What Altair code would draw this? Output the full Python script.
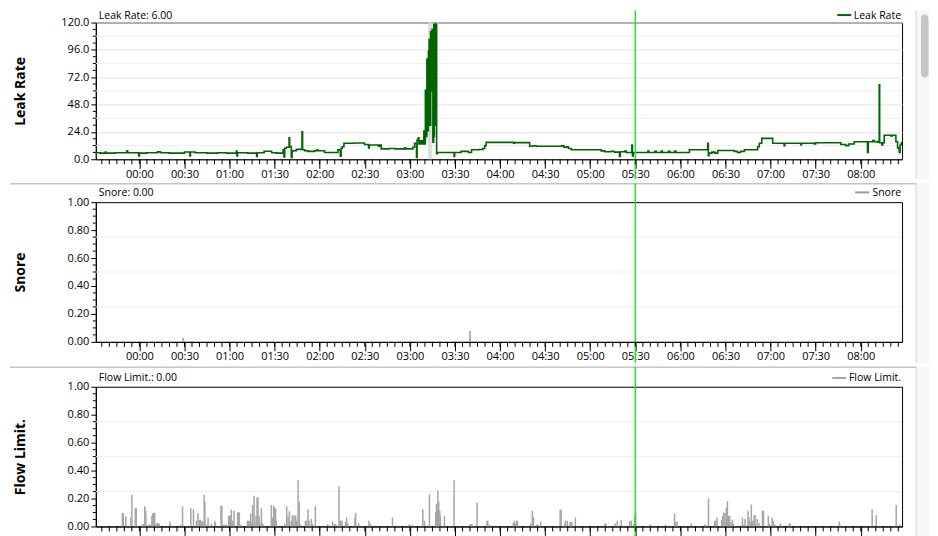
import altair as alt
import pandas as pd

# ---------------- data (minutes after 00:00; negative = before midnight) ----------------
time_ticks = [0, 30, 60, 90, 120, 150, 180, 210, 240, 270, 300, 330, 360, 390, 420, 450, 480]
minor_time_ticks = list(range(-25, 506, 5))
x_domain = [-29.0, 507.5]
crosshair_time = 330.0
readouts = {"Leak Rate": 6.00, "Snore": 0.00, "Flow Limit.": 0.00}

leak_points = [
    (-29.6, 5.7), (-29.2, 3.0), (-28.8, 5.7), (-26.0, 5.4), (-22.7, 6.3), (-22.2, 5.4),
    (-16.0, 5.7), (-8.3, 7.5), (-7.8, 5.7), (-0.5, 2.8), (0.0, 5.4), (5.0, 5.7),
    (12.0, 6.5), (14.0, 5.7), (20.0, 5.4), (30.0, 6.4), (33.6, 3.0), (34.0, 6.4),
    (37.0, 5.7), (45.0, 5.4), (52.0, 5.7), (58.0, 5.4), (64.5, 7.2), (64.9, 3.0),
    (65.3, 5.7), (72.0, 5.4), (78.0, 2.5), (78.4, 5.7), (83.0, 7.0), (88.0, 5.7),
    (91.0, 5.4),
    (95.6, 8.3), (96.2, 2.0), (96.7, 9.7), (97.8, 10.5), (99.6, 18.8), (100.0, 11.1),
    (101.1, 1.5), (101.6, 7.0), (102.2, 7.5), (104.4, 8.7), (107.3, 9.0), (108.2, 24.0),
    (108.6, 8.3), (110.0, 7.5), (112.2, 6.9), (116.6, 7.5), (118.0, 8.0), (119.0, 7.5),
    (123.2, 6.0), (132.1, 8.3), (133.7, 2.6), (134.2, 9.7), (135.0, 11.0), (136.1, 14.0),
    (143.0, 14.3), (149.8, 13.0), (152.5, 10.0), (153.0, 12.5), (159.0, 11.5), (159.8, 12.5),
    (160.9, 9.1), (166.0, 9.4), (170.0, 9.1), (176.4, 10.0), (177.0, 9.1), (182.0, 10.5),
    (183.1, 14.0), (184.4, 1.5), (184.8, 16.8),
    (185.5, 18.8), (186.0, 13.4), (187.0, 16.3), (188.0, 13.4), (188.8, 16.3), (189.3, 24.8),
    (189.8, 13.4), (190.3, 60.5), (190.8, 20.0), (191.3, 88.0), (191.8, 25.0), (192.3, 95.0),
    (192.8, 105.0), (193.3, 30.0), (193.8, 112.0), (194.3, 60.0), (194.8, 114.0), (195.3, 15.0),
    (195.8, 118.0), (196.1, 20.0), (196.3, 117.0), (196.6, 30.0), (196.9, 119.0), (197.2, 40.0),
    (197.5, 118.0), (197.8, 4.8), (198.3, 6.0),
    (209.0, 6.0), (209.4, 2.5), (209.8, 6.0), (214.0, 6.9), (219.0, 6.0), (221.0, 8.3),
    (226.0, 8.6), (228.5, 9.5), (229.8, 12.0), (230.7, 14.8), (249.0, 14.0), (249.6, 14.6),
    (259.7, 11.4), (262.0, 11.8), (264.0, 11.4), (281.0, 11.8), (282.5, 10.5), (284.1, 11.0),
    (285.5, 9.5), (287.4, 8.3), (307.3, 7.4), (309.6, 6.6), (314.0, 7.0), (316.0, 6.3),
    (319.5, 2.5), (320.0, 6.6), (323.0, 7.2), (324.0, 6.0), (327.7, 12.5), (328.1, 3.0),
    (328.6, 6.0), (338.4, 7.2), (339.0, 6.0), (343.0, 7.0), (344.0, 6.0), (347.2, 7.2),
    (348.0, 6.0), (352.0, 7.0), (353.0, 6.0), (356.1, 7.2), (357.0, 6.0),
    (366.0, 8.3), (378.2, 14.0), (378.6, 3.1), (379.0, 5.4), (381.0, 6.3), (383.0, 5.4),
    (384.9, 7.7), (395.9, 6.9), (398.0, 6.0), (400.0, 6.9), (402.6, 8.3), (411.4, 11.0),
    (412.5, 14.0), (414.1, 18.3), (421.4, 14.0), (429.0, 12.0), (429.5, 14.0), (440.2, 12.5),
    (440.6, 14.0), (449.1, 13.4), (450.0, 14.5), (466.8, 13.0), (470.0, 12.0), (472.0, 13.4),
    (475.7, 15.4), (484.5, 6.0), (485.0, 15.4), (488.0, 16.5), (489.0, 15.4), (491.2, 15.0),
    (492.3, 65.4), (492.6, 14.5), (494.0, 12.5), (494.6, 14.5), (495.6, 21.1), (500.0, 20.5),
    (501.0, 21.1), (503.4, 15.4), (504.5, 10.0), (505.6, 6.0), (506.2, 12.5), (507.0, 14.5),
    (507.8, 12.0),
]

large_leak_start = [192.2, 193.5]
large_leak_end = [193.4, 194.6]

snore_points = [(29.0, 0.03), (220.0, 0.08)]

flow_points = [
    (-11.3, 0.096), (-10.7, 0.096), (-9.0, 0.072), (-5.7, 0.065), (-5.0, 0.225), (-2.7, 0.13),
    (-2.1, 0.13), (1.7, 0.012), (2.3, 0.012), (2.9, 0.017), (3.6, 0.144), (4.3, 0.112),
    (6.3, 0.012), (7.0, 0.012), (7.6, 0.012), (8.3, 0.077), (9.0, 0.096), (9.6, 0.096),
    (10.2, 0.098), (11.4, 0.022), (12.0, 0.024), (12.6, 0.022), (13.2, 0.022), (20.3, 0.036),
    (20.9, 0.012), (27.6, 0.012), (28.7, 0.144), (34.2, 0.13), (36.0, 0.124), (38.0, 0.04),
    (38.9, 0.096), (40.0, 0.048), (40.7, 0.048), (41.5, 0.036), (42.2, 0.036), (43.1, 0.225),
    (43.6, 0.177), (44.0, 0.017), (45.7, 0.065), (47.9, 0.022), (50.2, 0.04), (50.6, 0.024),
    (54.3, 0.148), (54.9, 0.148), (56.0, 0.012), (57.0, 0.012), (57.8, 0.012), (59.4, 0.077),
    (60.1, 0.077), (60.6, 0.081), (61.2, 0.12), (62.1, 0.04), (63.0, 0.112), (65.3, 0.1),
    (65.9, 0.1), (66.5, 0.1), (67.4, 0.012), (71.9, 0.04), (72.5, 0.04), (73.1, 0.04),
    (74.1, 0.093), (74.5, 0.029), (75.4, 0.153), (76.3, 0.22), (76.7, 0.029), (77.6, 0.077),
    (78.3, 0.208), (78.9, 0.208), (79.6, 0.077), (80.1, 0.029), (81.2, 0.13), (82.1, 0.022),
    (87.8, 0.153), (88.5, 0.065), (89.4, 0.148), (90.0, 0.13), (90.6, 0.13), (91.1, 0.04),
    (96.7, 0.022), (98.0, 0.144), (98.9, 0.072), (99.8, 0.108), (101.1, 0.04), (101.8, 0.081),
    (102.9, 0.077), (104.0, 0.081), (104.7, 0.04), (105.6, 0.33), (106.4, 0.177), (107.3, 0.012),
    (110.5, 0.04), (111.2, 0.04), (112.2, 0.124), (112.9, 0.04), (114.4, 0.053), (115.1, 0.022),
    (117.1, 0.144), (125.3, 0.017), (128.6, 0.036), (130.0, 0.017), (130.7, 0.017), (132.8, 0.287),
    (133.5, 0.04), (134.1, 0.04), (134.8, 0.04), (137.2, 0.033), (137.9, 0.065), (138.8, 0.022),
    (143.4, 0.065), (143.9, 0.096), (145.9, 0.022), (152.7, 0.04), (153.8, 0.022), (168.4, 0.065),
    (179.4, 0.012), (180.0, 0.012), (181.7, 0.012), (188.6, 0.124), (189.7, 0.04), (193.0, 0.23),
    (197.2, 0.1), (197.7, 0.163), (198.1, 0.12), (198.6, 0.258), (199.2, 0.177), (199.9, 0.112),
    (200.3, 0.077), (203.0, 0.077), (209.4, 0.33), (220.1, 0.017), (220.7, 0.017), (221.3, 0.017),
    (224.7, 0.172), (231.3, 0.04), (231.8, 0.04), (233.1, 0.012),
    (248.8, 0.024), (249.4, 0.041), (250.0, 0.024), (251.0, 0.041), (251.6, 0.041), (260.4, 0.022),
    (261.5, 0.112), (262.2, 0.069), (264.3, 0.012), (265.0, 0.012), (267.0, 0.033), (280.0, 0.12),
    (280.6, 0.12), (283.0, 0.022), (283.6, 0.041), (284.8, 0.041), (286.6, 0.033), (287.2, 0.029),
    (287.8, 0.033), (290.1, 0.065), (309.8, 0.022), (310.4, 0.022), (316.6, 0.022), (318.0, 0.041),
    (320.6, 0.048), (326.2, 0.041), (327.3, 0.041), (329.1, 0.017), (329.5, 0.077), (330.2, 0.1),
    (339.8, 0.012), (340.4, 0.012), (350.1, 0.012), (356.1, 0.093), (356.7, 0.033), (357.8, 0.033),
    (367.1, 0.022), (376.1, 0.012), (376.7, 0.012), (378.7, 0.2), (382.8, 0.041), (383.4, 0.041),
    (384.4, 0.065), (387.5, 0.048), (388.2, 0.077), (388.9, 0.1), (389.7, 0.096), (390.6, 0.136),
    (391.3, 0.18), (391.9, 0.077), (392.8, 0.077), (393.7, 0.029), (394.6, 0.048), (395.3, 0.017),
    (401.3, 0.065), (401.9, 0.012), (403.0, 0.053), (405.0, 0.112), (405.7, 0.065), (406.3, 0.033),
    (407.2, 0.158), (408.1, 0.041), (409.0, 0.081), (409.7, 0.081), (411.0, 0.053), (412.3, 0.024),
    (414.6, 0.112), (415.3, 0.112), (418.5, 0.077), (419.2, 0.017), (421.0, 0.065), (421.9, 0.041),
    (423.0, 0.012), (426.5, 0.022), (432.4, 0.022), (433.0, 0.022), (465.7, 0.033), (466.1, 0.012),
    (487.6, 0.124), (490.3, 0.081), (503.6, 0.153), (506.2, 0.012),
]

leak_ticks = [0, 24, 48, 72, 96, 120]
leak_minor_ticks = [6, 12, 18, 30, 36, 42, 54, 60, 66, 78, 84, 90, 102, 108, 114]
leak_minor_grid = [12, 36, 60, 84, 108]
unit_ticks = [0, 0.2, 0.4, 0.6, 0.8, 1.0]
unit_minor_ticks = [0.05, 0.1, 0.15, 0.25, 0.3, 0.35, 0.45, 0.5, 0.55, 0.65, 0.7, 0.75, 0.85, 0.9, 0.95]
unit_minor_grid = [0.25, 0.5, 0.75]

# ---------------- styling ----------------
W = 808
FONT = "Open Sans"
LEAK_GREEN = "#006400"
GRAY = "#a6a6a6"
CROSS = "#22e022"
TXT = 10.5


def one_row():
    return pd.DataFrame({"a": [0]})


def panel(name, H, T, B, y_domain, y_ticks, y_minor, grid_minor, fmt, color,
          legend_w, major_grid, kind, points, bands=None, text_top=-13.3,
          separator_y=None, thumb=None, x_labels=True):
    x_enc = alt.X(
        "t:Q", title=None,
        scale=alt.Scale(domain=x_domain, nice=False, zero=False),
        axis=alt.Axis(values=time_ticks, tickSize=9, labelPadding=0, grid=False,
                      labels=x_labels, labelOverlap=False, labelFlush=False,
                      labelExpr="timeFormat(datetime(2000, 0, 1, 0, datum.value), '%H:%M')"),
    )
    y_enc = alt.Y(
        "v:Q", title=name,
        scale=alt.Scale(domain=y_domain, nice=False, zero=False),
        axis=alt.Axis(values=y_ticks, format=fmt, tickSize=5, labelPadding=2,
                      grid=major_grid, gridColor="#e2e2e2",
                      titleX=-75, titleY=H / 2, titleAngle=270,
                      titleAlign="center", titleBaseline="middle"),
    )
    layers = []
    # invisible bound so every panel has the same left extent
    layers.append(alt.Chart(one_row()).mark_rule(opacity=0).encode(
        x=alt.value(-86), x2=alt.value(W + 12), y=alt.value(0)))
    # window scrollbar track on the right
    layers.append(alt.Chart(one_row()).mark_rect(fill="#f7f7f7").encode(
        x=alt.value(W + 14), x2=alt.value(W + 27.5), y=alt.value(-T), y2=alt.value(H + B)))
    layers.append(alt.Chart(one_row()).mark_rule(color="#d6d6d6", strokeWidth=1).encode(
        x=alt.value(W + 14), y=alt.value(-T), y2=alt.value(H + B)))
    if thumb is not None:
        layers.append(alt.Chart(one_row()).mark_rect(
            fill="#c6c6c6", cornerRadius=4).encode(
            x=alt.value(W + 19), x2=alt.value(W + 26.5), y=alt.value(thumb[0]), y2=alt.value(thumb[1])))
    if separator_y is not None:
        layers.append(alt.Chart(one_row()).mark_rule(color="#c4c4c4", strokeWidth=1.5).encode(
            x=alt.value(-86), x2=alt.value(W + 14), y=alt.value(separator_y)))
    layers.append(alt.Chart(pd.DataFrame({"v": grid_minor})).mark_rule(
        color="#efefef", strokeWidth=1).encode(y=y_enc, x=alt.value(0), x2=alt.value(W)))
    if bands is not None:
        layers.append(alt.Chart(bands).mark_rect(color="#d9d9d9").encode(
            x=x_enc, x2="t2:Q", y=alt.value(0), y2=alt.value(H)))
    df = pd.DataFrame(points, columns=["t", "v"])
    if kind == "line":
        layers.append(alt.Chart(df).mark_line(
            interpolate="step-after", color=color, strokeWidth=1.6, clip=True).encode(x=x_enc, y=y_enc))
    else:
        layers.append(alt.Chart(df).mark_rule(color=color, strokeWidth=1.5, clip=True).encode(
            x=x_enc, y=y_enc, y2=alt.datum(0)))
    # crosshair
    layers.append(alt.Chart(pd.DataFrame({"t": [crosshair_time]})).mark_rule(
        color=CROSS, strokeWidth=1.5).encode(x=x_enc, y=alt.value(-T), y2=alt.value(H + B)))
    # minor ticks
    layers.append(alt.Chart(pd.DataFrame({"t": minor_time_ticks})).mark_rule(
        color="black", strokeWidth=1).encode(x=x_enc, y=alt.value(H), y2=alt.value(H + 5)))
    layers.append(alt.Chart(pd.DataFrame({"v": y_minor})).mark_rule(
        color="black", strokeWidth=1).encode(y=y_enc, x=alt.value(-3), x2=alt.value(0)))
    # header readout
    header = f"{name}: {readouts[name]:.2f}"
    layers.append(alt.Chart(pd.DataFrame({"label": [header]})).mark_text(
        align="left", baseline="top", font=FONT, fontSize=TXT, color="black").encode(
        x=alt.value(3), y=alt.value(text_top), text="label:N"))
    # legend (line swatch + name)
    sw_right = W - 1 - legend_w - 3
    layers.append(alt.Chart(one_row()).mark_rule(color=color, strokeWidth=2).encode(
        x=alt.value(sw_right - 14), x2=alt.value(sw_right), y=alt.value(text_top + 4.5)))
    layers.append(alt.Chart(pd.DataFrame({"label": [name]})).mark_text(
        align="right", baseline="top", font=FONT, fontSize=TXT, color="black").encode(
        x=alt.value(W - 1), y=alt.value(text_top), text="label:N"))
    return alt.layer(*layers).properties(width=W, height=H)


bands_df = pd.DataFrame({"t": large_leak_start, "t2": large_leak_end})

p1 = panel("Leak Rate", 137, 12, 20, [0, 120], leak_ticks, leak_minor_ticks, leak_minor_grid,
           ".1f", LEAK_GREEN, 47, True, "line", leak_points, bands=bands_df, text_top=-12,
           thumb=(-8, 55))
p2 = panel("Snore", 140, 19, 21, [0, 1], unit_ticks, unit_minor_ticks, unit_minor_grid,
           ".2f", "#999999", 29, False, "bar", snore_points, separator_y=-18.5, text_top=-14.3)
p3 = panel("Flow Limit.", 140, 20, 20, [0, 1], unit_ticks, unit_minor_ticks, unit_minor_grid,
           ".2f", GRAY, 52, False, "bar", flow_points, separator_y=-19.5, x_labels=False,
           text_top=-13.3)

chart = alt.vconcat(p1, p2, p3, spacing=0).properties(padding=0, background="white").configure_view(
    stroke="black", strokeWidth=1
).configure_axis(
    labelFont=FONT, labelFontSize=11, labelColor="black",
    titleFont=FONT, titleFontSize=14, titleFontWeight="bold", titleColor="black",
    domainColor="black", tickColor="black", tickWidth=1,
)

chart.save("out.html", embed_options={"renderer": "svg", "actions": False})
